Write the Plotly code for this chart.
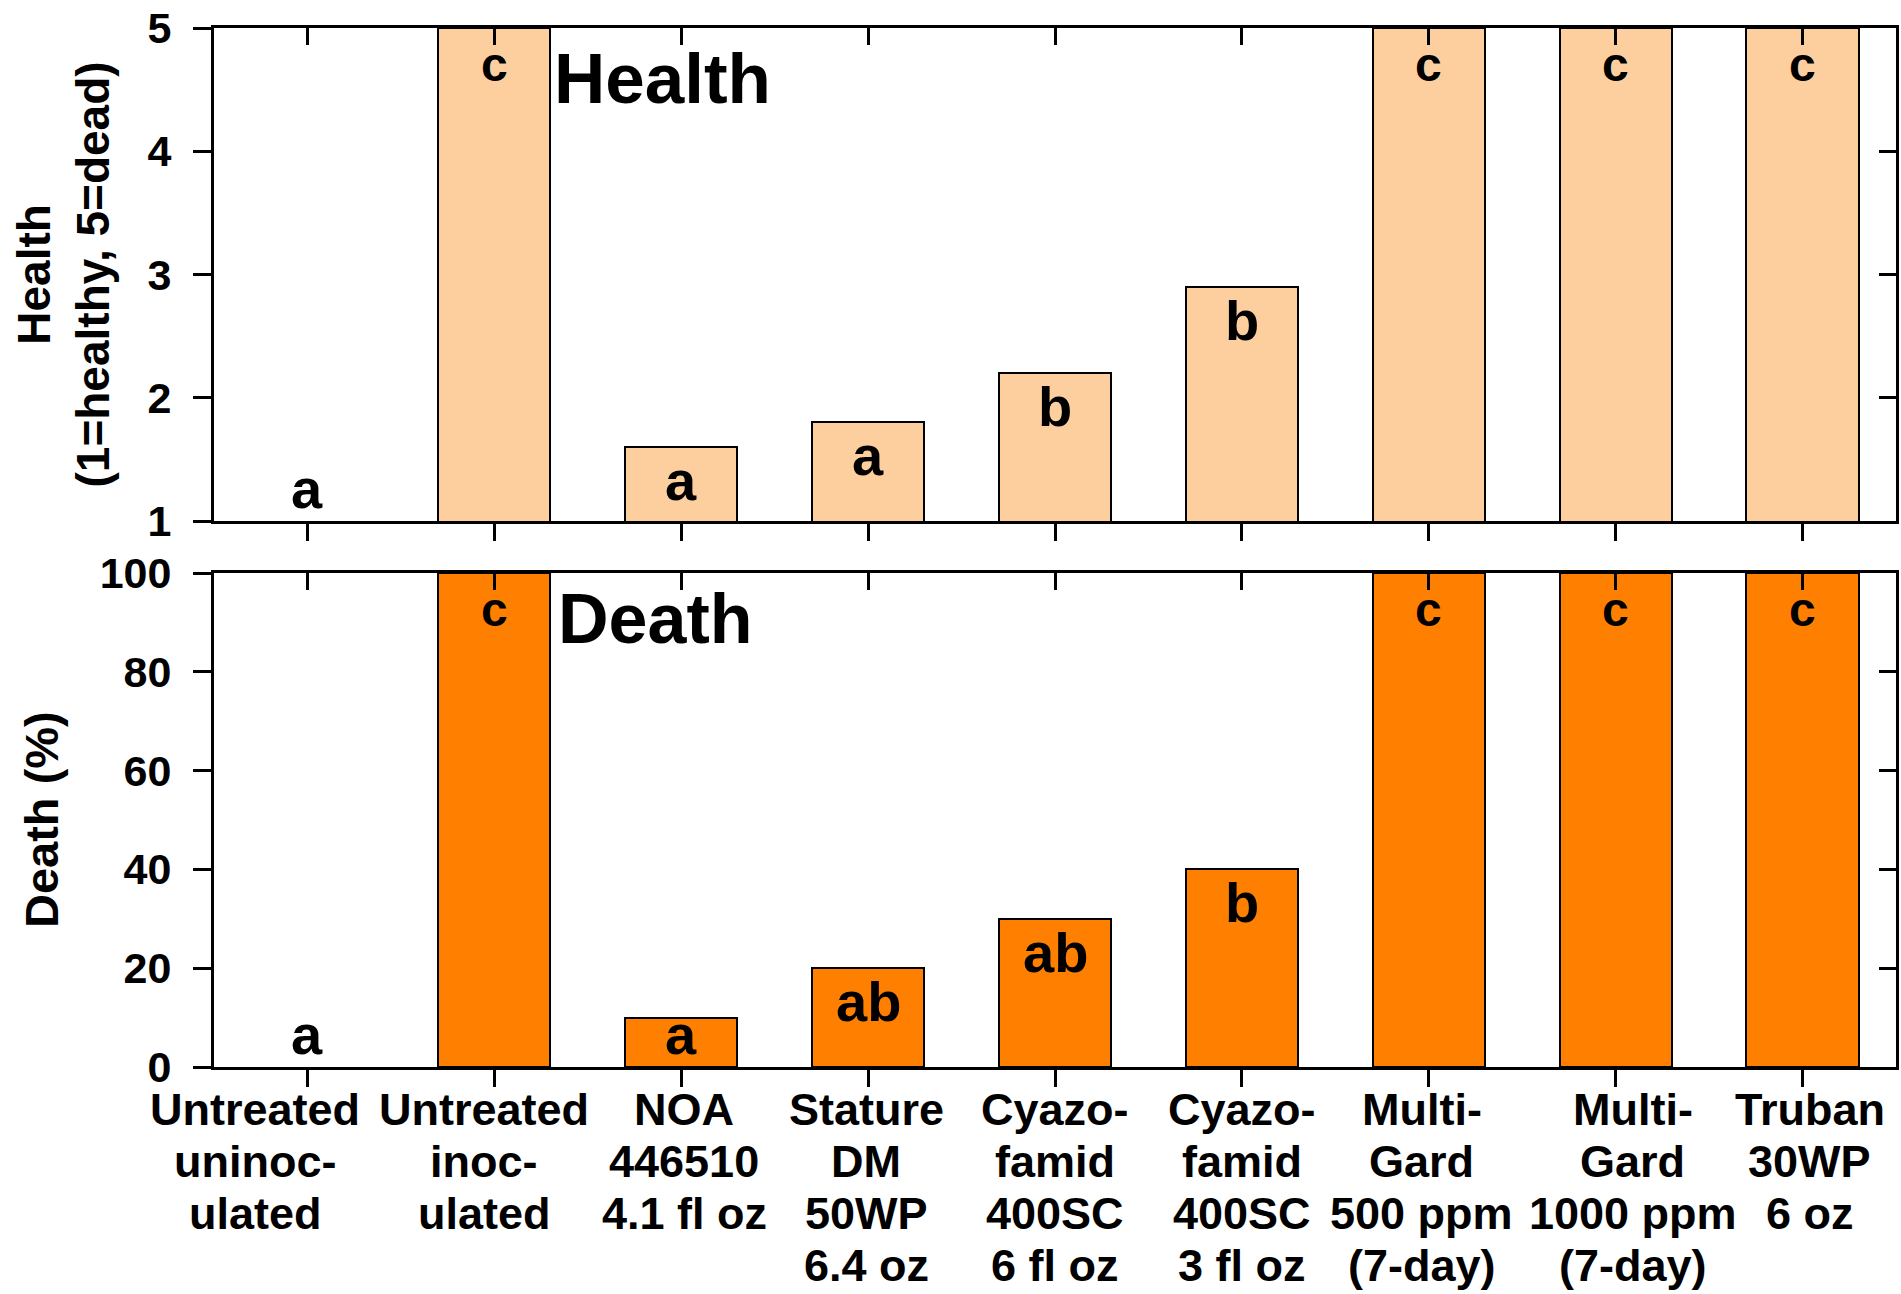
import plotly.graph_objects as go

# ---------------- data ----------------
categories = [
    "Untreated uninoculated", "Untreated inoculated", "NOA 446510 4.1 fl oz",
    "Stature DM 50WP 6.4 oz", "Cyazofamid 400SC 6 fl oz", "Cyazofamid 400SC 3 fl oz",
    "MultiGard 500 ppm (7-day)", "MultiGard 1000 ppm (7-day)", "Truban 30WP 6 oz",
]
tick_lines = [
    ["Untreated", "uninoc-", "ulated"],
    ["Untreated", "inoc-", "ulated"],
    ["NOA", "446510", "4.1 fl oz"],
    ["Stature", "DM", "50WP", "6.4 oz"],
    ["Cyazo-", "famid", "400SC", "6 fl oz"],
    ["Cyazo-", "famid", "400SC", "3 fl oz"],
    ["Multi-", "Gard", "500 ppm", "(7-day)"],
    ["Multi-", "Gard", "1000 ppm", "(7-day)"],
    ["Truban", "30WP", "6 oz"],
]
health = [1, 5, 1.6, 1.8, 2.2, 2.9, 5, 5, 5]
health_letters = ["a", "c", "a", "a", "b", "b", "c", "c", "c"]
death = [0, 100, 10, 20, 30, 40, 100, 100, 100]
death_letters = ["a", "c", "a", "ab", "ab", "b", "c", "c", "c"]
health_ticks = [1, 2, 3, 4, 5]
death_ticks = [0, 20, 40, 60, 80, 100]
health_range = [1, 5]
death_range = [0, 100]

# ---------------- style / layout ----------------
W, H = 1901, 1294
FONT = "Liberation Sans"
X0, X1 = 214, 1896          # plot area in px
TOP = (28, 521)             # health panel (top px, bottom px)
BOT = (573, 1067)           # death panel
health_color = "#FDCF9E"
death_color = "#FF8000"
label_xshift = [-52, -10, 3, -2, 0, 0, -7, 17, 7]
DESC = 0.23                 # baseline height above the bottom of an annotation box (em)

xdom = [X0 / W, X1 / W]
def ydom(p):
    return [1 - p[1] / H, 1 - p[0] / H]

def outline(vals, rng):
    # no outline for bars that sit exactly on the axis (zero height)
    return [0 if v == rng[0] else 2 for v in vals]

fig = go.Figure()
fig.add_trace(go.Bar(x=categories, y=health, width=0.6, xaxis="x", yaxis="y",
                     marker=dict(color=health_color,
                                 line=dict(color="black", width=outline(health, health_range))),
                     showlegend=False, hoverinfo="skip"))
fig.add_trace(go.Bar(x=categories, y=death, width=0.6, xaxis="x2", yaxis="y2",
                     marker=dict(color=death_color,
                                 line=dict(color="black", width=outline(death, death_range))),
                     showlegend=False, hoverinfo="skip"))
# empty traces so that the mirrored tick axes are drawn
for xa, ya in [("x3", "y"), ("x", "y3"), ("x4", "y2"), ("x2", "y4")]:
    fig.add_trace(go.Scatter(x=[None], y=[None], xaxis=xa, yaxis=ya, mode="markers",
                             showlegend=False, hoverinfo="skip"))

tickfont = dict(family=FONT, size=43, color="black", weight="bold")
base_x = dict(type="category", categoryorder="array", categoryarray=categories,
              range=[-0.5, len(categories) - 0.5], domain=xdom, showgrid=False,
              zeroline=False, showline=True, linecolor="black", linewidth=3, mirror=True,
              ticks="outside", ticklen=17, tickwidth=3, tickcolor="black",
              showticklabels=False)
mirror_x = dict(type="linear", range=[-0.5, len(categories) - 0.5],
                tickvals=list(range(len(categories))), side="top", showgrid=False,
                zeroline=False, showline=False, ticks="inside", ticklen=17, tickwidth=3,
                tickcolor="black", showticklabels=False)
base_y = dict(showgrid=False, zeroline=False, showline=True, linecolor="black",
              linewidth=3, mirror=True, ticks="outside", ticklen=18, tickwidth=3,
              tickcolor="black", tickfont=tickfont, ticklabelstandoff=13)
mirror_y = dict(side="right", showgrid=False, zeroline=False, showline=False,
                ticks="inside", ticklen=17, tickwidth=3, tickcolor="black",
                showticklabels=False)

fig.update_layout(
    width=W, height=H,
    margin=dict(l=0, r=0, t=0, b=0, pad=0, autoexpand=False),
    paper_bgcolor="white", plot_bgcolor="white",
    font=dict(family=FONT, color="black"),
    bargap=0,
    xaxis=dict(base_x, anchor="y"),
    xaxis2=dict(base_x, anchor="y2"),
    xaxis3=dict(mirror_x, overlaying="x", anchor="y"),
    xaxis4=dict(mirror_x, overlaying="x2", anchor="y2"),
    yaxis=dict(base_y, anchor="x", domain=ydom(TOP), range=health_range,
               tickvals=health_ticks),
    yaxis2=dict(base_y, anchor="x2", domain=ydom(BOT), range=death_range,
                tickvals=death_ticks),
    yaxis3=dict(mirror_y, overlaying="y", anchor="x", range=health_range,
                tickvals=health_ticks),
    yaxis4=dict(mirror_y, overlaying="y2", anchor="x2", range=death_range,
                tickvals=death_ticks),
)

ann = []

# significance letters, baseline ~53 px below the bar top (kept above the axis)
def letters(vals, labs, rng, panel, xref, yref):
    ppu = (panel[1] - panel[0]) / (rng[1] - rng[0])
    for c, v, t in zip(categories, vals, labs):
        size = 48 if t == "c" else 56
        drop = min(53, (v - rng[0]) * ppu - 13)
        ann.append(dict(x=c, y=v, xref=xref, yref=yref, text=t, showarrow=False,
                        xanchor="center", yanchor="bottom", borderpad=0,
                        yshift=-drop - DESC * size,
                        font=dict(family=FONT, size=size, color="black", weight="bold")))

letters(health, health_letters, health_range, TOP, "x", "y")
letters(death, death_letters, death_range, BOT, "x2", "y2")

# category labels below the bottom panel, line by line
LBL = 45
for c, lines, dx in zip(categories, tick_lines, label_xshift):
    for k, line in enumerate(lines):
        ann.append(dict(x=c, y=0, xref="x2", yref="y2 domain", text=line,
                        showarrow=False, xanchor="center", yanchor="bottom",
                        borderpad=0, xshift=dx, yshift=-(59 + 52 * k) - DESC * LBL,
                        font=dict(family=FONT, size=LBL, color="black", weight="bold")))

# panel titles
ann.append(dict(x=(553 - X0) / (X1 - X0), y=1, xref="x domain", yref="y domain",
                text="Health", showarrow=False, xanchor="left", yanchor="top",
                borderpad=0, yshift=-(74 - 0.905 * 71),
                font=dict(family=FONT, size=71, color="black", weight="bold")))
ann.append(dict(x=(557 - X0) / (X1 - X0), y=1, xref="x2 domain", yref="y2 domain",
                text="Death", showarrow=False, xanchor="left", yanchor="top",
                borderpad=0, yshift=-(69 - 0.905 * 70),
                font=dict(family=FONT, size=70, color="black", weight="bold")))

# y axis titles
ann.append(dict(x=64 / W, y=0.5, xref="paper", yref="y domain",
                text="Health<br>(1=healthy, 5=dead)", textangle=-90, showarrow=False,
                xanchor="center", yanchor="middle", borderpad=0,
                font=dict(family=FONT, size=46, color="black", weight="bold")))
ann.append(dict(x=41 / W, y=0.5, xref="paper", yref="y2 domain",
                text="Death (%)", textangle=-90, showarrow=False,
                xanchor="center", yanchor="middle", borderpad=0,
                font=dict(family=FONT, size=47, color="black", weight="bold")))

fig.update_layout(annotations=ann)
fig.write_html("out.html", config={"displayModeBar": False},
               post_script="document.body.style.margin='0';"
                           "document.body.style.overflow='hidden';")
